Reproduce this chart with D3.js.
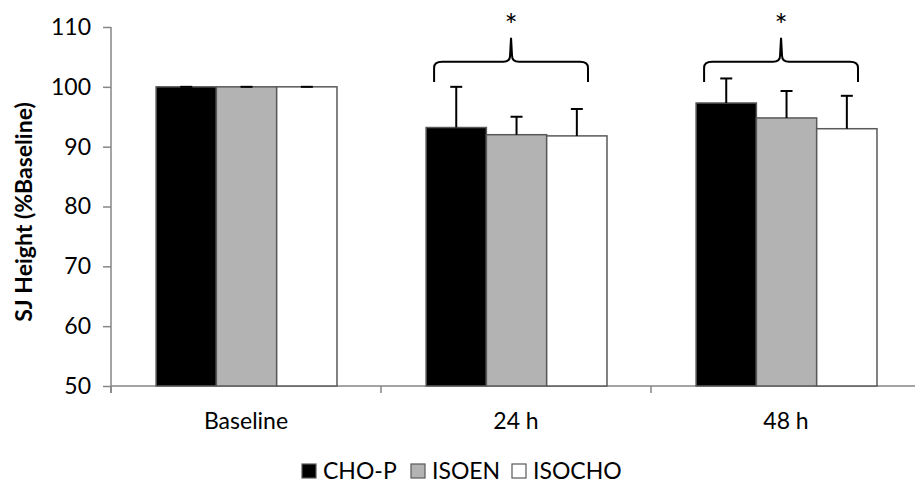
<!DOCTYPE html>
<html>
<head>
<meta charset="utf-8">
<script src="https://cdn.jsdelivr.net/npm/d3@7"></script>
<style>
  body { margin: 0; background: #fff; }
  svg text { font-family: Lato, "Open Sans", sans-serif; fill: #000; }
</style>
</head>
<body>
<svg id="graphic" width="915" height="486"></svg>
<script>
// data
var categories = ["Baseline", "24 h", "48 h"];
var series = ["CHO-P", "ISOEN", "ISOCHO"];
var colors = ["#000000", "#b3b3b3", "#ffffff"];
var means = {
  "CHO-P":  [100, 93.2, 97.3],
  "ISOEN":  [100, 92.0, 94.8],
  "ISOCHO": [100, 91.8, 93.0]
};
var sds = {
  "CHO-P":  [0, 6.8, 4.1],
  "ISOEN":  [0, 3.0, 4.5],
  "ISOCHO": [0, 4.5, 5.5]
};
var yTicks = [50, 60, 70, 80, 90, 100, 110];
var sigGroups = ["24 h", "48 h"];

var svg = d3.select("#graphic");

var y = d3.scaleLinear().domain([50, 110]).range([386, 27]);
var x0 = d3.scaleBand().domain(categories).range([111, 921]);
var bw = x0.bandwidth();
var x1 = d3.scaleBand().domain(series).range([bw * 0.167, bw * 0.837]);

// y axis
var yAxis = svg.append("g")
  .attr("transform", "translate(111,0)")
  .call(d3.axisLeft(y).tickValues(yTicks).tickSize(8).tickPadding(12).tickSizeOuter(0));
yAxis.select(".domain").remove();
yAxis.append("line")
  .attr("x1", 0).attr("x2", 0)
  .attr("y1", y(110)).attr("y2", y(50) + 7)
  .attr("stroke", "#868686").attr("stroke-width", 1.5);
yAxis.selectAll(".tick line").attr("stroke", "#868686").attr("stroke-width", 1.5);
yAxis.selectAll(".tick text").style("font-size", "23px").attr("fill", "#000");

// x axis line + boundary ticks
var xg = svg.append("g");
xg.append("line")
  .attr("x1", 111).attr("x2", 921)
  .attr("y1", y(50)).attr("y2", y(50))
  .attr("stroke", "#868686").attr("stroke-width", 1.5);
var bounds = categories.map(function (c) { return x0(c); }).concat([x0(categories[2]) + bw]);
xg.selectAll(".bt")
  .data(bounds)
  .enter()
  .append("line")
  .attr("x1", function (d) { return d; })
  .attr("x2", function (d) { return d; })
  .attr("y1", y(50)).attr("y2", y(50) + 7)
  .attr("stroke", "#868686").attr("stroke-width", 1.5);
xg.selectAll(".cl")
  .data(categories)
  .enter()
  .append("text")
  .attr("x", function (d) { return x0(d) + bw / 2; })
  .attr("y", 429)
  .attr("text-anchor", "middle")
  .style("font-size", "23px")
  .text(function (d) { return d; });

// bars
var rows = [];
categories.forEach(function (c, i) {
  series.forEach(function (s, j) {
    rows.push({ cat: c, ser: s, v: means[s][i], sd: sds[s][i], color: colors[j] });
  });
});

var bars = svg.append("g");
bars.selectAll("rect")
  .data(rows)
  .enter()
  .append("rect")
  .attr("x", function (d) { return x0(d.cat) + x1(d.ser); })
  .attr("y", function (d) { return y(d.v); })
  .attr("width", x1.bandwidth())
  .attr("height", function (d) { return y(50) - y(d.v); })
  .attr("fill", function (d) { return d.color; })
  .attr("stroke", "#595959")
  .attr("stroke-width", 1.5);

// error bars (upper only)
var eb = svg.append("g").attr("stroke", "#000").attr("stroke-width", 2);
rows.forEach(function (d) {
  var cx = x0(d.cat) + x1(d.ser) + x1.bandwidth() / 2;
  eb.append("line")
    .attr("x1", cx).attr("x2", cx)
    .attr("y1", y(d.v)).attr("y2", y(d.v + d.sd));
  eb.append("line")
    .attr("x1", cx - 6).attr("x2", cx + 6)
    .attr("y1", y(d.v + d.sd)).attr("y2", y(d.v + d.sd));
});

// curly brackets + asterisks
sigGroups.forEach(function (c) {
  var l = x0(c) + x1(series[0]) + 8;
  var r = x0(c) + x1(series[2]) + x1.bandwidth() - 19;
  var m = (l + r) / 2;
  var yb = y(100.8), yh = y(104.2), yp = y(108.2);
  var p = d3.path();
  p.moveTo(l, yb);
  p.lineTo(l, yh + 6);
  p.quadraticCurveTo(l, yh, l + 8, yh);
  p.lineTo(m - 8, yh);
  p.quadraticCurveTo(m - 1, yh, m - 1, yh - 6);
  p.lineTo(m, yp);
  p.lineTo(m + 1, yh - 6);
  p.quadraticCurveTo(m + 1, yh, m + 8, yh);
  p.lineTo(r - 8, yh);
  p.quadraticCurveTo(r, yh, r, yh + 6);
  p.lineTo(r, yb);
  svg.append("path")
    .attr("d", p.toString())
    .attr("fill", "none")
    .attr("stroke", "#000")
    .attr("stroke-width", 2);
  svg.append("text")
    .attr("x", m)
    .attr("y", 36)
    .attr("text-anchor", "middle")
    .style("font-size", "31px")
    .text("*");
});

// y label
svg.append("text")
  .attr("transform", "translate(32,212) rotate(-90)")
  .attr("text-anchor", "middle")
  .style("font-size", "23px")
  .style("font-weight", "bold")
  .text("SJ Height (%Baseline)");

// legend
var legendX = [302, 411, 512];
var legend = svg.append("g");
series.forEach(function (s, i) {
  legend.append("rect")
    .attr("x", legendX[i]).attr("y", 464)
    .attr("width", 14).attr("height", 14)
    .attr("fill", colors[i])
    .attr("stroke", "#595959")
    .attr("stroke-width", 1.2);
  legend.append("text")
    .attr("x", legendX[i] + 21)
    .attr("y", 479)
    .style("font-size", "23px")
    .text(s);
});
</script>
</body>
</html>
